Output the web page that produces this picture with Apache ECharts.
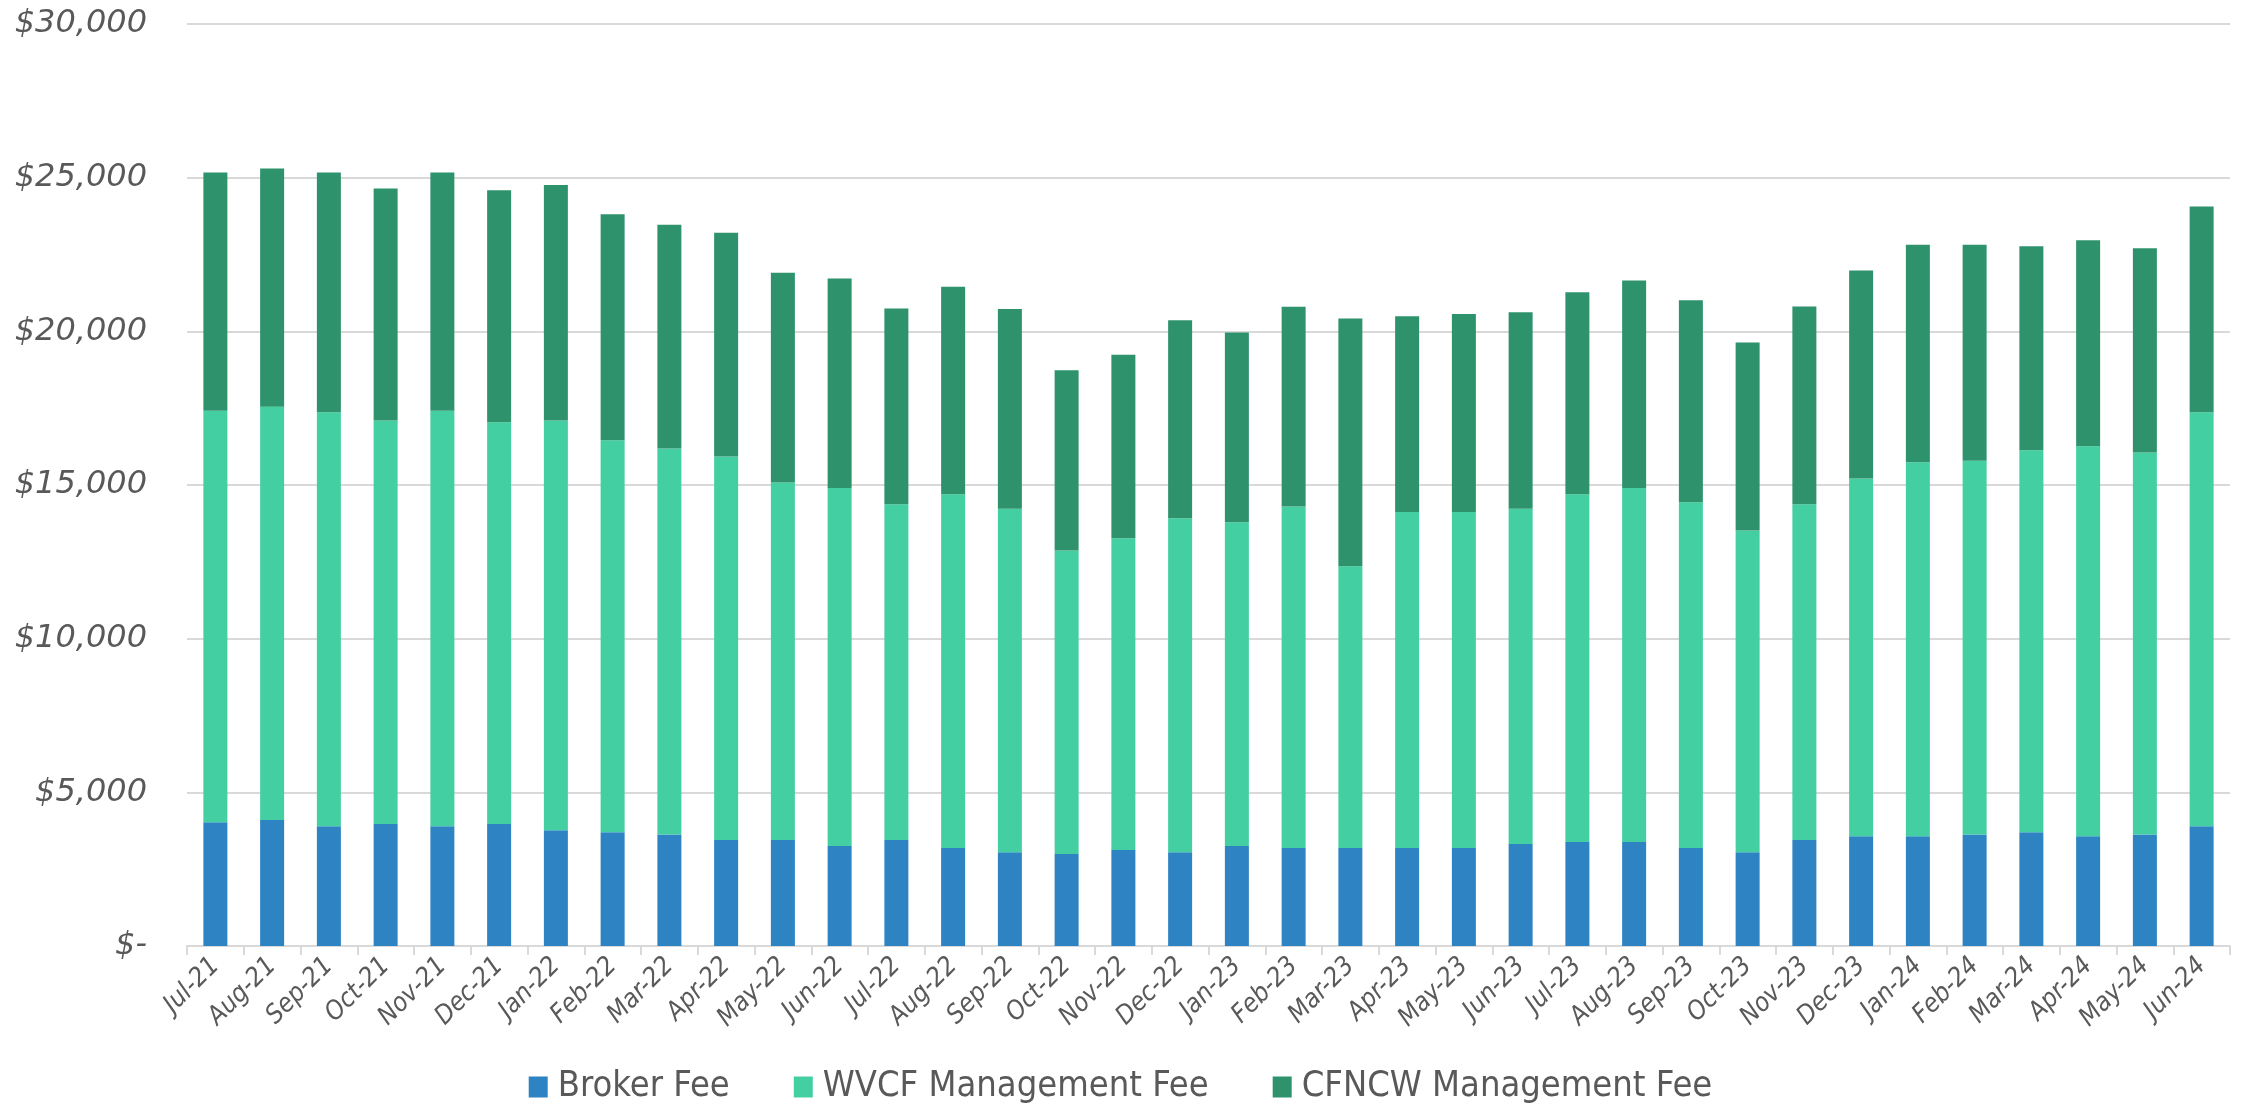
<!DOCTYPE html>
<html>
<head>
<meta charset="utf-8">
<script src="https://cdn.jsdelivr.net/npm/echarts@6/dist/echarts.min.js"></script>
<style>
html,body{margin:0;padding:0;background:#fff;}
#chart{width:2241px;height:1105px;}
</style>
</head>
<body>
<div id="chart"></div>
<script>
const categories = ["Jul-21","Aug-21","Sep-21","Oct-21","Nov-21","Dec-21","Jan-22","Feb-22","Mar-22","Apr-22","May-22","Jun-22","Jul-22","Aug-22","Sep-22","Oct-22","Nov-22","Dec-22","Jan-23","Feb-23","Mar-23","Apr-23","May-23","Jun-23","Jul-23","Aug-23","Sep-23","Oct-23","Nov-23","Dec-23","Jan-24","Feb-24","Mar-24","Apr-24","May-24","Jun-24"];
const brokerFee = [4030,4100,3900,3970,3900,3970,3770,3700,3630,3450,3450,3250,3450,3190,3050,2990,3120,3050,3250,3190,3190,3190,3190,3320,3380,3380,3190,3050,3450,3570,3570,3630,3700,3570,3630,3900];
const wvcfFee = [13390,13450,13470,13130,13520,13070,13330,12760,12560,12480,11630,11650,10920,11510,11180,9880,10150,10870,10540,11110,9170,10930,10930,10910,11320,11520,11250,10470,10920,11640,12170,12160,12430,12690,12430,13470];
const cfncwFee = [7750,7750,7800,7550,7750,7550,7660,7350,7280,7280,6830,6820,6370,6750,6500,5860,5970,6440,6170,6500,8060,6370,6440,6390,6570,6750,6570,6120,6440,6770,7080,7030,6640,6700,6640,6690];
const yTicks = [0,5000,10000,15000,20000,25000,30000];

const chart = echarts.init(document.getElementById('chart'));
const labelColor = '#595959';
chart.setOption({
  animation:false,
  backgroundColor:'#ffffff',
  grid:{left:187,right:11,top:24,bottom:159,containLabel:false},
  legend:{
    top:1064,left:'center',
    itemWidth:19,itemHeight:21,itemGap:64,
    icon:'rect',
    textStyle:{color:labelColor,fontSize:36,fontFamily:'DejaVu Sans Condensed, DejaVu Sans',padding:[0,0,0,5]},
    data:['Broker Fee','WVCF Management Fee','CFNCW Management Fee']
  },
  xAxis:{
    type:'category',data:categories,
    axisLine:{lineStyle:{color:'#d9d9d9',width:2}},
    axisTick:{show:true,alignWithLabel:false,length:9,lineStyle:{color:'#d9d9d9',width:2}},
    axisLabel:{rotate:45,interval:0,color:labelColor,fontSize:26,fontStyle:'italic',fontFamily:'DejaVu Sans Condensed, DejaVu Sans',margin:16}
  },
  yAxis:{
    type:'value',min:yTicks[0],max:yTicks[yTicks.length-1],interval:5000,
    axisLine:{show:false},axisTick:{show:false},
    splitLine:{lineStyle:{color:'#d9d9d9',width:2}},
    axisLabel:{color:labelColor,fontSize:32,fontStyle:'italic',fontFamily:'DejaVu Sans',margin:40,
      formatter:function(v){return v===0?'$-':'$'+v.toLocaleString('en-US');}}
  },
  series:[
    {name:'Broker Fee',type:'bar',stack:'t',data:brokerFee,barWidth:24,itemStyle:{color:'#2e83c3'}},
    {name:'WVCF Management Fee',type:'bar',stack:'t',data:wvcfFee,barWidth:24,itemStyle:{color:'#43cfa2'}},
    {name:'CFNCW Management Fee',type:'bar',stack:'t',data:cfncwFee,barWidth:24,itemStyle:{color:'#2e936d'}}
  ]
});
</script>
</body>
</html>
